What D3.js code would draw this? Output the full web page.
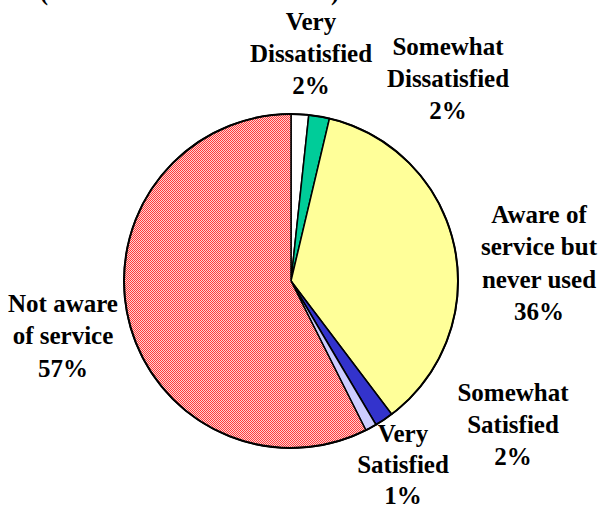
<!DOCTYPE html>
<html>
<head>
<meta charset="utf-8">
<script src="https://cdn.jsdelivr.net/npm/d3@7"></script>
<style>
  html, body { margin: 0; padding: 0; background: #ffffff; }
  svg { display: block; }
  text { font-family: "Liberation Serif", "Times New Roman", "DejaVu Serif", serif; font-weight: bold; fill: #000; }
</style>
</head>
<body>
<svg id="chart" width="603" height="508"></svg>
<script>
// ---- data ----
const categories = ["Very Dissatisfied", "Somewhat Dissatisfied", "Aware of service but never used",
                    "Somewhat Satisfied", "Very Satisfied", "Not aware of service"];
const values = [1.7, 2.0, 36.0, 1.8, 1.1, 57.4];
const percentLabels = ["2%", "2%", "36%", "2%", "1%", "57%"];
const labelLines = [
  ["Very", "Dissatisfied"],
  ["Somewhat", "Dissatisfied"],
  ["Aware of", "service but", "never used"],
  ["Somewhat", "Satisfied"],
  ["Very", "Satisfied"],
  ["Not aware", "of service"]
];
const titleText = "(Non-International Students).";

// ---- layout / style (not data) ----
const colors = ["#ffffff", "#00cc99", "#ffff99", "#3333cc", "#ccccff", "url(#hatch)"];
const labelAnchors = [ // [centre x, first baseline y, line height]
  [311, 30, 32],
  [448, 55, 32],
  [539, 223, 32.3],
  [513, 401, 32],
  [403, 442, 31],
  [63, 312, 32.4]
];
const cx = 291, cy = 281, radius = 167;

const svg = d3.select("#chart");

// hatch pattern for "Not aware"
const defs = svg.append("defs");
const pat = defs.append("pattern")
  .attr("id", "hatch").attr("patternUnits", "userSpaceOnUse")
  .attr("width", 2).attr("height", 2);
pat.append("rect").attr("width", 2).attr("height", 2).attr("fill", "#ffd2d2");
pat.append("rect").attr("x", 0).attr("y", 0).attr("width", 1).attr("height", 1).attr("fill", "#ff3c3c");
pat.append("rect").attr("x", 1).attr("y", 1).attr("width", 1).attr("height", 1).attr("fill", "#ff3c3c");

// clipped title line at the very top (only its lowest pixels show, as in the original)
svg.append("text")
  .attr("x", 40).attr("y", 0)
  .attr("font-size", 25)
  .attr("textLength", 305)
  .attr("lengthAdjust", "spacingAndGlyphs")
  .text(titleText);

const pie = d3.pie().sort(null).value(d => d).startAngle(0).endAngle(2 * Math.PI);
const arc = d3.arc().innerRadius(0).outerRadius(radius);
const arcs = pie(values);

const g = svg.append("g").attr("transform", `translate(${cx},${cy})`);
g.selectAll("path.slice")
  .data(arcs)
  .join("path")
  .attr("class", "slice")
  .attr("d", arc)
  .attr("fill", (d, i) => colors[i])
  .attr("stroke", "#000")
  .attr("stroke-width", 1.5)
  .attr("stroke-linejoin", "round");

// outer rim slightly heavier
g.append("circle").attr("r", radius).attr("fill", "none")
  .attr("stroke", "#000").attr("stroke-width", 2);

// labels
categories.forEach((c, i) => {
  const [lx, ly, lh] = labelAnchors[i];
  const lines = labelLines[i].concat([percentLabels[i]]);
  const t = svg.append("text")
    .attr("text-anchor", "middle")
    .attr("font-size", 25)
    .attr("aria-label", c + " " + percentLabels[i]);
  lines.forEach((ln, k) => {
    t.append("tspan").attr("x", lx).attr("y", ly + k * lh).text(ln);
  });
});
</script>
</body>
</html>
